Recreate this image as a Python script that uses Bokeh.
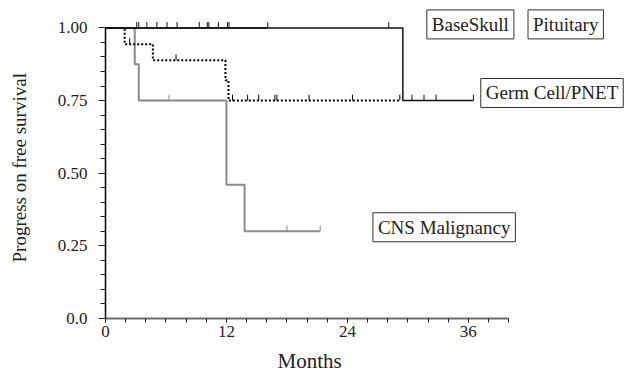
from bokeh.plotting import figure
from bokeh.models import FixedTicker, Range1d, Label, Title, LinearAxis
from bokeh.embed import file_html
from bokeh.resources import INLINE

# ---- axis ticks ----
month_ticks = [0, 12, 24, 36]
month_minor = list(range(0, 41, 2))
surv_ticks = [0.0, 0.25, 0.5, 0.75, 1.0]
surv_tick_labels = ["0.0", "0.25", "0.50", "0.75", "1.00"]
surv_minor = [round(i * 0.05, 2) for i in range(21)]

# ---- Kaplan-Meier curves (months, survival) ----
cns_t = [0, 2.9, 3.3, 12.0, 13.8, 21.3]
cns_s = [1.0, 0.875, 0.75, 0.46, 0.30, 0.30]
cns_cens = [6.3, 18.0, 21.3]

germ_t = [0, 1.9, 4.7, 11.9, 12.2, 29.2]
germ_s = [1.0, 0.944, 0.889, 0.82, 0.75, 0.75]
germ_cens = [2.4, 7.0, 12.6, 14.1, 15.2, 16.8, 17.0, 20.2, 24.5, 29.2]

base_t = [0, 29.5, 36.5]
base_s = [1.0, 0.75, 0.75]
base_cens = [28.1, 30.4, 31.6, 32.8, 36.5]

pit_t = [0, 16.1]
pit_s = [1.0, 1.0]
pit_cens = [3.1, 3.3, 4.1, 5.1, 6.1, 7.1, 9.3, 10.1, 10.25, 11.2, 12.1, 12.25, 16.1]


def surv_at(ts, ss, t):
    v = ss[0]
    for ti, si in zip(ts, ss):
        if ti <= t:
            v = si
    return v


FONT = "Liberation Serif"

p = figure(width=626, height=376, output_backend="svg", toolbar_location=None,
           x_range=Range1d(0, 51.69), y_range=Range1d(0, 1.0943),
           min_border_left=105, min_border_right=0, min_border_top=0,
           min_border_bottom=58)
p.grid.visible = False
p.outline_line_color = None
p.background_fill_color = "white"

tick_h = 0.02


def draw(ts, ss, cens, color, width, dash="solid"):
    p.step(ts, ss, mode="after", line_color=color, line_width=width, line_dash=dash)
    cy = [surv_at(ts, ss, c) for c in cens]
    p.segment(x0=cens, y0=cy, x1=cens, y1=[y + tick_h for y in cy],
              line_color=color if dash == "solid" else "black", line_width=1)


draw(cns_t, cns_s, cns_cens, "#8a8a8a", 2)
draw(germ_t, germ_s, germ_cens, "black", 2, "2 2")
draw(pit_t, pit_s, pit_cens, "#111111", 1.5)
draw(base_t, base_s, base_cens, "#111111", 1.5)

# ---- axes ----
p.xaxis.ticker = FixedTicker(ticks=month_ticks, minor_ticks=month_minor)
p.xaxis.bounds = (0, 40)
p.xaxis.axis_line_color = "#6a6a6a"
p.xaxis.axis_line_width = 2
p.xaxis.major_tick_out = 4
p.xaxis.major_tick_in = 0
p.xaxis.minor_tick_out = 4
p.xaxis.minor_tick_in = 0
p.xaxis.major_label_standoff = 3

p.yaxis.ticker = FixedTicker(ticks=surv_ticks, minor_ticks=surv_minor)
p.yaxis.bounds = (0, 1)
p.yaxis.major_label_overrides = {t: l for t, l in zip(surv_ticks, surv_tick_labels)}
p.yaxis.axis_line_color = "black"
p.yaxis.axis_line_width = 1.5
p.yaxis.major_tick_out = 7
p.yaxis.major_tick_in = 0
p.yaxis.minor_tick_out = 5
p.yaxis.minor_tick_in = 0
p.yaxis.major_label_standoff = 11

for ax in (p.xaxis[0], p.yaxis[0]):
    ax.major_label_text_font = FONT
    ax.major_label_text_font_size = "17px"
    ax.major_label_text_color = "#222222"
    ax.major_tick_line_color = "#222222"
    ax.minor_tick_line_color = "#222222"


# ---- invisible spacer axes, then side titles ----
def spacer(size):
    return LinearAxis(ticker=FixedTicker(ticks=[0], minor_ticks=[]), axis_line_color=None,
                      major_tick_out=size, major_tick_in=0, minor_tick_out=0, minor_tick_in=0,
                      major_tick_line_color=None, minor_tick_line_color=None,
                      major_label_standoff=0, major_label_text_font_size="1px",
                      major_label_text_color=None, major_label_overrides={0: " "})


p.add_layout(spacer(7), "below")
p.add_layout(Title(text="Months", align="left", offset=172, standoff=0,
                   text_font=FONT, text_font_size="21px", text_font_style="normal",
                   text_color="#222222"), "below")
p.add_layout(spacer(25), "left")
p.add_layout(Title(text="Progress on free survival", align="left", offset=56, standoff=0,
                   text_font=FONT, text_font_size="19px", text_font_style="normal",
                   text_color="#222222"), "left")

# ---- boxed labels ----
boxes = [("BaseSkull", 36.2, 1.012), ("Pituitary", 45.66, 1.012),
         ("Germ Cell/PNET", 44.3, 0.776), ("CNS Malignancy", 33.6, 0.314)]
for txt, bx, by in boxes:
    p.add_layout(Label(x=bx, y=by, text=txt, text_align="center", text_baseline="middle",
                       text_font=FONT, text_font_size="19px", text_color="#222222",
                       background_fill_color="white", border_line_color="#333333",
                       border_line_width=1, padding=(5, 4)))

open("out.html", "w").write(file_html(p, INLINE))
